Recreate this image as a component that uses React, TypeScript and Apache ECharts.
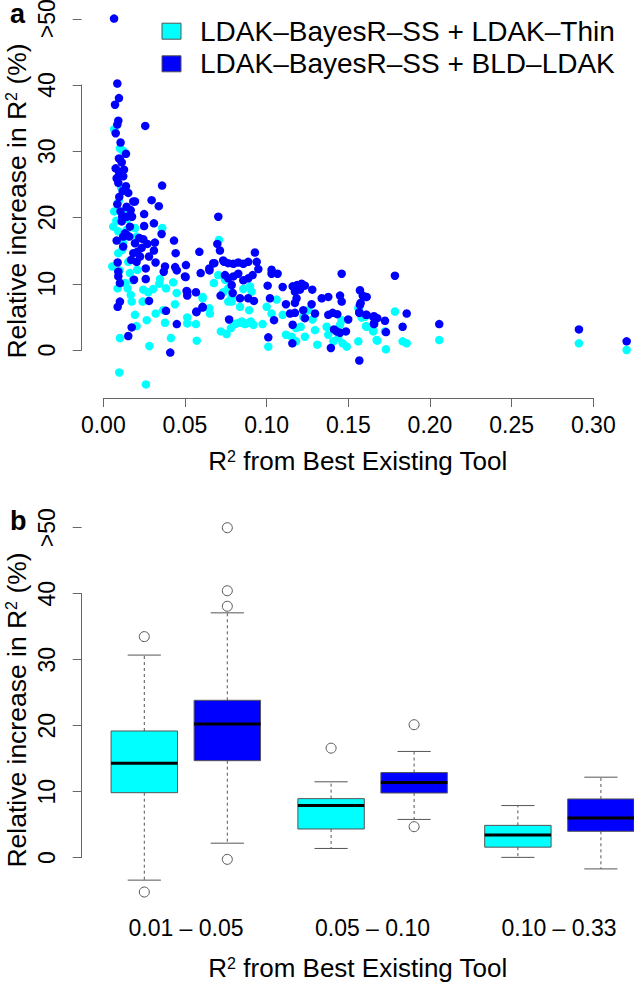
import React, { useEffect, useRef } from "react";
import * as echarts from "echarts";

const thinName = "LDAK–BayesR–SS + LDAK–Thin";
const bldName = "LDAK–BayesR–SS + BLD–LDAK";

// [R2 from best existing tool, relative increase (%)]
const thinPoints = [
  [0.0067, 33.3], [0.0102, 30.4], [0.0119, 30.1], [0.0067, 20.9], [0.0061, 18.6], [0.0092, 17.9], [0.0143, 18.1],
  [0.0194, 18.4], [0.0204, 17.1], [0.0361, 18.4], [0.0055, 12.6], [0.0092, 14.6], [0.0116, 15.1], [0.0153, 13.3],
  [0.0163, 11.6], [0.0208, 12.1], [0.0133, 10.1], [0.0149, 9.3], [0.0088, 9.3], [0.0168, 8.3], [0.0174, 7.3],
  [0.0194, 5.3], [0.0204, 3.6], [0.0102, 1.8], [0.0098, -3.4], [0.0261, -5.2], [0.0282, 0.6], [0.0266, 4.5],
  [0.0245, 9.1], [0.0275, 8.7], [0.0241, 7.3], [0.0306, 9.2], [0.0347, 10.7], [0.0343, 10.0], [0.0384, 9.3],
  [0.0428, 10.2], [0.0449, 8.6], [0.0439, 6.9], [0.0367, 6.0], [0.0321, 5.5], [0.0378, 4.1], [0.0414, 1.8],
  [0.0514, 4.9], [0.0514, 4.0], [0.0567, 3.9], [0.0572, 1.4], [0.0608, 7.8], [0.0608, 8.0], [0.0649, 6.3],
  [0.0653, 5.5], [0.0677, 10.1], [0.0704, 11.3], [0.0708, 16.6], [0.072, 2.8], [0.0755, 2.4], [0.0781, 3.3],
  [0.0806, 3.9], [0.0837, 4.1], [0.0867, 3.9], [0.0898, 4.1], [0.0919, 3.8], [0.0745, 10.6], [0.0765, 9.3],
  [0.0734, 8.7], [0.0786, 8.0], [0.0786, 7.3], [0.0837, 6.5], [0.0893, 6.0], [0.0857, 9.2], [0.0908, 8.8],
  [0.0898, 9.6], [0.0765, 7.3], [0.0816, 4.0], [0.0847, 4.3], [0.0877, 4.0], [0.0902, 4.3], [0.0975, 3.9],
  [0.1, 6.5], [0.103, 5.5], [0.101, 0.5], [0.1061, 7.6], [0.1098, 5.3], [0.1118, 2.3], [0.1153, 2.0],
  [0.118, 1.3], [0.118, 3.3], [0.1208, 3.5], [0.1224, 5.0], [0.1234, 2.0], [0.1255, 6.0], [0.1281, 4.6],
  [0.1296, 3.0], [0.131, 0.8], [0.1367, 3.5], [0.1377, 2.3], [0.1408, 1.3], [0.1438, 1.8], [0.1465, 1.0],
  [0.1449, 3.8], [0.1459, 4.5], [0.149, 0.5], [0.1561, 6.3], [0.1561, 1.3], [0.1602, 5.0], [0.1612, 3.5],
  [0.1652, 2.8], [0.1673, 1.5], [0.1567, 6.5], [0.1581, 4.9], [0.1608, 3.6], [0.1652, 2.9], [0.1677, 1.4],
  [0.173, 0.1], [0.1785, 5.8], [0.1832, 1.3], [0.1857, 1.0], [0.2056, 1.5], [0.2911, 1.0], [0.3203, 0.0],
  [0.1724, 2.8], [0.0088, 26.0], [0.011, 24.5], [0.0095, 22.5], [0.013, 21.0], [0.008, 19.5], [0.015, 19.8],
  [0.012, 16.2], [0.01, 12.0], [0.018, 10.5],
];

const bldPoints = [
  [0.0066, 50], [0.0086, 40.2], [0.0096, 38.0], [0.0072, 37.0], [0.0092, 34.6], [0.0086, 34.0], [0.0076, 32.7],
  [0.0257, 33.8], [0.0106, 31.3], [0.0139, 29.6], [0.0096, 28.9], [0.0113, 28.3], [0.0102, 28.8], [0.0076, 27.4],
  [0.0127, 27.2], [0.0098, 26.7], [0.0122, 26.2], [0.0082, 25.9], [0.0092, 25.2], [0.0139, 24.7], [0.036, 24.8],
  [0.0119, 24.0], [0.0153, 23.7], [0.0098, 23.1], [0.0296, 22.6], [0.0194, 22.4], [0.0184, 22.4], [0.0086, 22.0],
  [0.034, 21.7], [0.0143, 21.6], [0.0168, 21.1], [0.0106, 20.9], [0.025, 20.5], [0.0116, 20.1], [0.0143, 20.1],
  [0.0176, 20.1], [0.0704, 20.1], [0.0113, 19.4], [0.031, 19.1], [0.025, 18.7], [0.0163, 18.6], [0.0133, 17.6],
  [0.0357, 17.5], [0.0139, 17.4], [0.0122, 17.1], [0.0159, 17.1], [0.022, 16.9], [0.0245, 16.7], [0.0082, 16.5],
  [0.0433, 16.5], [0.0316, 16.2], [0.0194, 16.1], [0.027, 16.0], [0.0698, 16.0], [0.0122, 15.6], [0.0235, 15.4],
  [0.031, 15.0], [0.0714, 15.0], [0.0208, 14.8], [0.0588, 14.8], [0.0928, 14.7], [0.0184, 14.6], [0.0443, 14.6],
  [0.0225, 14.1], [0.028, 14.1], [0.017, 13.6], [0.0734, 13.5], [0.0204, 13.3], [0.074, 13.3], [0.0088, 13.2],
  [0.032, 13.2], [0.0764, 13.1], [0.0673, 13.1], [0.068, 13.1], [0.0796, 13.0], [0.0826, 13.2], [0.0857, 13.0],
  [0.0887, 13.3], [0.0939, 13.3], [0.0506, 12.8], [0.0378, 12.6], [0.044, 12.5], [0.026, 12.3], [0.0649, 12.3],
  [0.0949, 12.2], [0.103, 12.1], [0.045, 12.0], [0.065, 12.0], [0.0092, 11.8], [0.037, 11.8], [0.0596, 11.6],
  [0.103, 11.5], [0.1067, 11.5], [0.0826, 11.5], [0.1459, 11.5], [0.0745, 11.3], [0.0914, 11.3], [0.1785, 11.2],
  [0.0092, 11.1], [0.05, 11.1], [0.0796, 11.1], [0.0504, 11.0], [0.0765, 10.8], [0.0887, 10.8], [0.026, 10.7],
  [0.0188, 10.6], [0.0857, 10.5], [0.0102, 10.1], [0.1214, 10.0], [0.0786, 9.8], [0.1187, 9.8], [0.1006, 9.7],
  [0.1234, 9.7], [0.1159, 9.6], [0.1098, 9.5], [0.1204, 9.1], [0.1279, 9.1], [0.1571, 9.0], [0.051, 8.9],
  [0.0514, 8.8], [0.1173, 8.8], [0.0567, 8.7], [0.0792, 8.6], [0.0514, 8.2], [0.0718, 8.2], [0.1449, 8.2],
  [0.1588, 8.2], [0.1377, 8.0], [0.1612, 8.0], [0.1608, 8.0], [0.0837, 7.8], [0.0887, 7.8], [0.102, 7.8],
  [0.1183, 7.8], [0.1337, 7.8], [0.0102, 7.3], [0.0922, 7.4], [0.028, 7.4], [0.1459, 7.3], [0.1173, 7.1],
  [0.1575, 7.1], [0.1118, 6.9], [0.1275, 6.9], [0.1571, 6.8], [0.0088, 6.5], [0.0608, 6.5], [0.0608, 6.4],
  [0.1224, 6.0], [0.0384, 5.9], [0.057, 5.8], [0.057, 5.7], [0.1567, 5.7], [0.1173, 5.6], [0.1404, 5.6],
  [0.1567, 5.6], [0.1143, 5.5], [0.1296, 5.5], [0.1857, 5.5], [0.1432, 5.4], [0.1377, 5.3], [0.1612, 5.3],
  [0.1608, 5.3], [0.1657, 5.1], [0.1652, 5.0], [0.1234, 4.8], [0.1677, 4.8], [0.077, 4.6], [0.1499, 4.6],
  [0.1045, 4.5], [0.1724, 4.4], [0.045, 3.9], [0.1657, 4.0], [0.1657, 3.9], [0.2056, 3.9], [0.1159, 3.8],
  [0.1832, 3.5], [0.0174, 3.4], [0.1412, 3.1], [0.2911, 3.1], [0.1428, 2.8], [0.1485, 2.8], [0.173, 2.7],
  [0.1449, 2.6], [0.0153, 2.1], [0.101, 1.9], [0.3203, 1.3], [0.1157, 1.0], [0.1393, 0.3], [0.041, -0.4],
  [0.1567, -1.6],
];

const xTickValues = [0, 0.05, 0.1, 0.15, 0.2, 0.25, 0.3];
const xTickLabels = ["0.00", "0.05", "0.10", "0.15", "0.20", "0.25", "0.30"];
const yTickValues = [0, 10, 20, 30, 40, 50];
const yTickLabels = ["0", "10", "20", "30", "40", ">50"];
const groupLabels = ["0.01 – 0.05", "0.05 – 0.10", "0.10 – 0.33"];

// box statistics: [lower whisker, Q1, median, Q3, upper whisker]
const boxThin = [
  [-3.4, 9.85, 14.3, 19.2, 30.7],
  [1.4, 4.35, 7.9, 8.95, 11.5],
  [0.05, 1.6, 3.45, 4.9, 7.9],
];
const boxBld = [
  [2.2, 14.7, 20.25, 23.85, 37.1],
  [5.8, 9.8, 11.4, 12.9, 16.1],
  [-1.7, 4.0, 6.0, 8.9, 12.2],
];
const outliersThin = [[33.5, -5.2], [16.6], []];
const outliersBld = [[50, 40.45, 38.1, -0.25], [20.15, 4.7], []];

const xTitle = "R{sup|2} from Best Existing Tool";
const yTitle = "Relative increase in R{sup|2} (%)";

const CYAN = "#00FFFF";
const BLUE = "#0000FF";
const AXIS = "#666666";
const BORDER = "#555555";
const FONT = "'Liberation Sans', Arial, Helvetica, sans-serif";

const boxPos = (g: number, s: number) => 1 + g * 2.25 + s;

const xFmt = (v: number) => {
  const i = xTickValues.findIndex((t) => Math.abs(t - v) < 1e-6);
  return i >= 0 ? xTickLabels[i] : "";
};
const yFmt = (v: number) => {
  const i = yTickValues.findIndex((t) => Math.abs(t - v) < 1e-6);
  return i >= 0 ? yTickLabels[i] : "";
};
const groupFmt = (v: number) => groupLabels[Math.round(v)] ?? "";

const richTitle = (size: number) => ({
  fontSize: size,
  fontFamily: FONT,
  color: "#000",
  rich: {
    sup: { fontSize: 16, fontFamily: FONT, color: "#000", verticalAlign: "top" },
  },
});

const hiddenAxis = (gridIndex: number) => ({ type: "value", gridIndex, show: false, min: 0, max: 1 });

const tickAxisY = (gridIndex: number) => ({
  type: "value",
  gridIndex,
  min: 0,
  max: 50,
  interval: 10,
  axisLine: { show: false },
  axisTick: { show: true, length: 9, lineStyle: { color: AXIS, width: 1 } },
  axisLabel: { show: true, rotate: 90, fontSize: 23, fontFamily: FONT, color: "#000", margin: 23, formatter: yFmt },
  splitLine: { show: false },
});
const lineAxisY = (gridIndex: number) => ({
  type: "value",
  gridIndex,
  min: 0,
  max: 40,
  axisLine: { show: true, lineStyle: { color: AXIS, width: 1 } },
  axisTick: { show: false },
  axisLabel: { show: false },
  splitLine: { show: false },
});
const dataAxis = (
  gridIndex: number,
  min: number,
  max: number,
  name: string,
  gap: number,
  isY: boolean,
  size: number
) => ({
  type: "value",
  gridIndex,
  min,
  max,
  name,
  nameLocation: "middle",
  nameGap: gap,
  nameRotate: isY ? 90 : 0,
  nameTextStyle: richTitle(size),
  axisLine: { show: false },
  axisTick: { show: false },
  axisLabel: { show: false },
  splitLine: { show: false },
});

function renderBox(color: string) {
  return (params: any, api: any) => {
    const pos = api.value(0);
    const mn = api.value(1);
    const q1 = api.value(2);
    const md = api.value(3);
    const q3 = api.value(4);
    const mx = api.value(5);
    const half = api.size([0.8, 0])[0] / 2;
    const x = api.coord([pos, md])[0];
    const yMin = api.coord([pos, mn])[1];
    const yQ1 = api.coord([pos, q1])[1];
    const yMd = api.coord([pos, md])[1];
    const yQ3 = api.coord([pos, q3])[1];
    const yMax = api.coord([pos, mx])[1];
    const dash = { stroke: BORDER, lineWidth: 1, lineDash: [3, 3] };
    const solid = { stroke: BORDER, lineWidth: 1 };
    return {
      type: "group",
      children: [
        { type: "line", shape: { x1: x, y1: yQ3, x2: x, y2: yMax }, style: dash },
        { type: "line", shape: { x1: x, y1: yQ1, x2: x, y2: yMin }, style: dash },
        { type: "line", shape: { x1: x - half / 2, y1: yMax, x2: x + half / 2, y2: yMax }, style: solid },
        { type: "line", shape: { x1: x - half / 2, y1: yMin, x2: x + half / 2, y2: yMin }, style: solid },
        {
          type: "rect",
          shape: { x: x - half, y: yQ3, width: 2 * half, height: yQ1 - yQ3 },
          style: { fill: color, stroke: BORDER, lineWidth: 1 },
        },
        { type: "line", shape: { x1: x - half, y1: yMd, x2: x + half, y2: yMd }, style: { stroke: "#000", lineWidth: 3 } },
      ],
    };
  };
}

const G = { outerBoundsMode: "none", containLabel: false };

export default function App() {
  const ref = useRef<HTMLDivElement>(null);
  useEffect(() => {
    if (!ref.current) return;
    const chart = echarts.init(ref.current, undefined, { renderer: "svg" });
    const option: any = {
      animation: false,
      textStyle: { fontFamily: FONT },
      grid: [
        { ...G, left: 81.7, top: 4, width: 552.3, height: 394 },
        { ...G, left: 103.3, top: 397, width: 490, height: 1 },
        { ...G, left: 81.7, top: 18.75, width: 1, height: 331.25 },
        { ...G, left: 81.7, top: 85, width: 1, height: 265 },
        { ...G, left: 81.7, top: 513, width: 552.3, height: 394 },
        { ...G, left: 81.7, top: 527.7, width: 1, height: 330 },
        { ...G, left: 81.7, top: 593.7, width: 1, height: 264 },
        { ...G, left: 186, top: 906, width: 373, height: 1 },
      ],
      xAxis: [
        dataAxis(0, -0.0132, 0.3248, xTitle, 50, false, 26),
        {
          type: "value",
          gridIndex: 1,
          min: 0,
          max: 0.3,
          interval: 0.05,
          axisLine: { show: true, lineStyle: { color: AXIS, width: 1 } },
          axisTick: { show: true, length: 9, lineStyle: { color: AXIS, width: 1 } },
          axisLabel: { show: true, fontSize: 23, fontFamily: FONT, color: "#000", margin: 15, formatter: xFmt },
          splitLine: { show: false },
        },
        hiddenAxis(2),
        hiddenAxis(3),
        dataAxis(4, 0.246, 6.8986, xTitle, 48, false, 26),
        hiddenAxis(5),
        hiddenAxis(6),
        {
          type: "value",
          gridIndex: 7,
          min: 0,
          max: 2,
          interval: 1,
          axisLine: { show: false },
          axisTick: { show: false },
          axisLabel: { show: true, fontSize: 23, fontFamily: FONT, color: "#000", margin: 9, formatter: groupFmt },
          splitLine: { show: false },
        },
      ],
      yAxis: [
        dataAxis(0, -7.25, 52.2, yTitle, 51, true, 26.5),
        hiddenAxis(1),
        tickAxisY(2),
        lineAxisY(3),
        dataAxis(4, -7.47, 52.23, yTitle, 51, true, 26.5),
        tickAxisY(5),
        lineAxisY(6),
        hiddenAxis(7),
      ],
      legend: {
        data: [thinName, bldName],
        orient: "vertical",
        left: 156.5,
        top: 12.2,
        itemWidth: 19,
        itemHeight: 16,
        itemGap: 4.6,
        icon: "rect",
        selectedMode: false,
        itemStyle: { borderColor: BORDER, borderWidth: 1, opacity: 1 },
        textStyle: { fontSize: 28, fontFamily: FONT, color: "#000", lineHeight: 28, padding: [0, 0, 0, 14] },
      },
      graphic: [
        { type: "text", x: 10, y: 14, style: { text: "a", fontSize: 27, fontWeight: "bold", fontFamily: FONT, fill: "#000", verticalAlign: "middle" } },
        { type: "text", x: 10, y: 520.6, style: { text: "b", fontSize: 27, fontWeight: "bold", fontFamily: FONT, fill: "#000", verticalAlign: "middle" } },
      ],
      series: [
        {
          name: thinName,
          type: "scatter",
          xAxisIndex: 0,
          yAxisIndex: 0,
          symbol: "circle",
          symbolSize: 8.5,
          itemStyle: { color: CYAN, opacity: 1 },
          data: thinPoints,
        },
        {
          name: bldName,
          type: "scatter",
          xAxisIndex: 0,
          yAxisIndex: 0,
          symbol: "circle",
          symbolSize: 8.5,
          itemStyle: { color: BLUE, opacity: 1 },
          data: bldPoints,
        },
        {
          name: "box-thin",
          type: "custom",
          xAxisIndex: 4,
          yAxisIndex: 4,
          renderItem: renderBox(CYAN),
          encode: { x: 0, y: [1, 2, 3, 4, 5] },
          data: boxThin.map((s, g) => [boxPos(g, 0), ...s]),
        },
        {
          name: "box-bld",
          type: "custom",
          xAxisIndex: 4,
          yAxisIndex: 4,
          renderItem: renderBox(BLUE),
          encode: { x: 0, y: [1, 2, 3, 4, 5] },
          data: boxBld.map((s, g) => [boxPos(g, 1), ...s]),
        },
        {
          name: "outliers",
          type: "scatter",
          xAxisIndex: 4,
          yAxisIndex: 4,
          symbol: "circle",
          symbolSize: 10,
          itemStyle: { color: "rgba(255,255,255,0)", borderColor: BORDER, borderWidth: 1, opacity: 1 },
          data: [
            ...outliersThin.flatMap((vals, g) => vals.map((v) => [boxPos(g, 0), v])),
            ...outliersBld.flatMap((vals, g) => vals.map((v) => [boxPos(g, 1), v])),
          ],
        },
      ],
    };
    chart.setOption(option);
    return () => chart.dispose();
  }, []);
  return (
    <div
      ref={ref}
      style={{ position: "fixed", left: 0, top: 0, width: 634, height: 984, background: "#fff" }}
    />
  );
}
